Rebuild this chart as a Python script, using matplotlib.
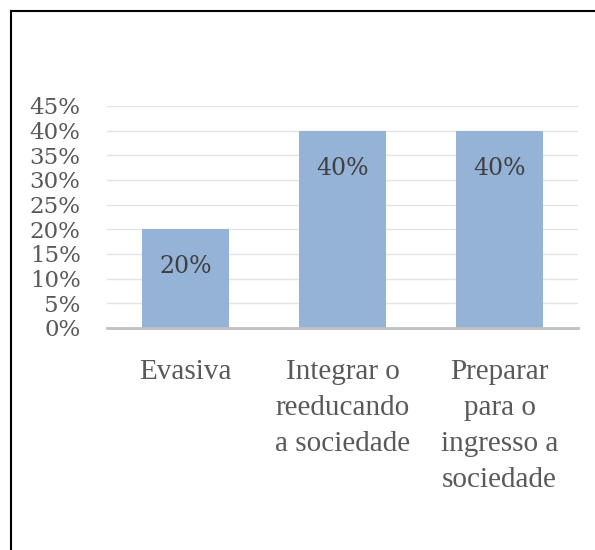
import matplotlib
matplotlib.use("Agg")
import matplotlib.pyplot as plt
from matplotlib.lines import Line2D
from matplotlib.ticker import FuncFormatter, MultipleLocator

categories = ["Evasiva", "Integrar o\nreeducando\na sociedade", "Preparar\npara o\ningresso a\nsociedade"]
values = [0.20, 0.40, 0.40]
value_labels = ["20%", "40%", "40%"]

fig = plt.figure(figsize=(5.95, 5.5), dpi=100)
ax = fig.add_axes([107/595, 1-328/550, 471/595, 222/550])

x = list(range(len(categories)))
bars = ax.bar(x, values, width=0.555, color="#95b3d7", zorder=3)

ax.set_xlim(-0.5, len(categories)-0.5)
ax.set_ylim(0, 0.45)
ax.yaxis.set_major_locator(MultipleLocator(0.05))
ax.yaxis.set_major_formatter(FuncFormatter(lambda v, p: f"{v*100:.0f}%"))
ax.grid(axis="y", color="#e4e4e4", lw=1, zorder=0)
for s in ["top", "right", "left"]:
    ax.spines[s].set_visible(False)
ax.spines["bottom"].set_color("#bfbfbf")
ax.spines["bottom"].set_linewidth(2)
ax.spines["bottom"].set_zorder(4)

ax.set_xticks(x)
ax.set_xticklabels(categories, fontfamily="Liberation Serif", fontsize=21,
                   color="#595959", linespacing=1.5)
ax.tick_params(axis="x", length=0, pad=22.5)
ax.tick_params(axis="y", length=0, pad=19, labelsize=16.5, labelcolor="#595959")
for t in ax.get_yticklabels():
    t.set_fontfamily("DejaVu Serif")

for b, lab in zip(bars, value_labels):
    ax.annotate(lab, (b.get_x() + b.get_width()/2, b.get_height()),
                xytext=(0, -27), textcoords="offset points",
                ha="center", va="center", fontsize=17, color="#404040",
                fontfamily="DejaVu Serif", zorder=5)

fig.add_artist(Line2D([11/595, 11/595], [0, 1-11/550], color="black", lw=1.5))
fig.add_artist(Line2D([11/595, 1], [1-11/550, 1-11/550], color="black", lw=1.5))

fig.savefig("out.png", dpi=100)
